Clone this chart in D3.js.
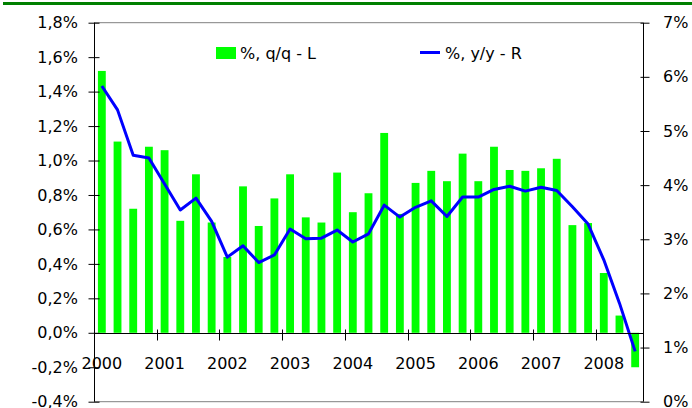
<!DOCTYPE html>
<html><head><meta charset="utf-8">
<script src="https://cdn.jsdelivr.net/npm/d3@7"></script>
<style>body{margin:0;background:#fff}svg{display:block}text{font-family:"DejaVu Sans",Verdana,sans-serif;fill:#000}</style>
</head><body><svg id="c" width="692" height="408"></svg>
<script>
const years = ["2000","2001","2002","2003","2004","2005","2006","2007","2008"];
const quarters = [];
years.forEach(y => ["Q1","Q2","Q3","Q4"].forEach(q => quarters.push(y + q)));
quarters.splice(35); // 2000Q1 .. 2008Q3
const qoq = [1.52,1.11,0.72,1.08, 1.06,0.65,0.92,0.64, 0.44,0.85,0.62,0.78, 0.92,0.67,0.64,0.93,
             0.70,0.81,1.16,0.69, 0.87,0.94,0.88,1.04, 0.88,1.08,0.945,0.94, 0.955,1.01,0.625,0.637,
             0.347,0.10,-0.20];
const yoy = [5.83,5.39,4.55,4.50, 4.02,3.54,3.76,3.33, 2.67,2.88,2.57,2.71, 3.19,3.01,3.02,3.17,
             2.95,3.10,3.63,3.41, 3.59,3.71,3.42,3.78, 3.78,3.92,3.98,3.89, 3.96,3.90,3.60,3.28,
             2.62,1.82,0.93];
const leftTicks = [-0.4,-0.2,0,0.2,0.4,0.6,0.8,1.0,1.2,1.4,1.6,1.8];
const rightTicks = [0,1,2,3,4,5,6,7];
const seriesNames = ["%, q/q - L", "%, y/y - R"];

const svg = d3.select("#c");
const L = 94, R = 643, T = 22.7, B = 401.7;
const x = d3.scaleBand().domain(quarters).range([L, R]).paddingInner(0.5).paddingOuter(0.25);
const yL = d3.scaleLinear().domain([-0.4, 1.8]).range([B, T]);
const yR = d3.scaleLinear().domain([0, 7]).range([B, T]);
const step = x.step(), bw = x.bandwidth();
const fmtL = d => d.toFixed(1).replace(".", ",") + "%";
const fmtR = d => d + "%";

// top green rule
svg.append("rect").attr("x", 3).attr("y", 2).attr("width", 689).attr("height", 3).attr("fill", "#008000");

// plot top/bottom borders
svg.append("line").attr("x1", L).attr("x2", R).attr("y1", T).attr("y2", T).attr("stroke", "#808080");
svg.append("line").attr("x1", L).attr("x2", R).attr("y1", B).attr("y2", B).attr("stroke", "#808080");

// bars
svg.append("g").selectAll("rect").data(quarters).join("rect")
  .attr("x", d => x(d))
  .attr("width", bw)
  .attr("y", (d, i) => yL(Math.max(0, qoq[i])))
  .attr("height", (d, i) => Math.abs(yL(qoq[i]) - yL(0)))
  .attr("fill", "#00ff00");

// line
const line = d3.line().x((d, i) => x(quarters[i]) + bw / 2).y(d => yR(d));
svg.append("path").datum(yoy).attr("d", line).attr("fill", "none")
  .attr("stroke", "#0000ff").attr("stroke-width", 3).attr("stroke-linejoin", "round");

// left axis
const gl = svg.append("g").attr("transform", `translate(${L},0)`)
  .call(d3.axisLeft(yL).tickValues(leftTicks).tickFormat(fmtL).tickSize(6).tickPadding(10));
gl.select(".domain").attr("stroke", "#000").attr("d", `M0.5,${T}V${B}`);
gl.selectAll(".tick line").attr("x1", 5).attr("x2", -6).attr("transform", "translate(0.5,0)");
gl.selectAll(".tick text").attr("font-size", 16).attr("font-family", "DejaVu Sans").attr("fill", "#000");

// right axis
const gr = svg.append("g").attr("transform", `translate(${R},0)`)
  .call(d3.axisRight(yR).tickValues(rightTicks).tickFormat(fmtR).tickSize(6).tickPadding(14));
gr.select(".domain").attr("stroke", "#000").attr("d", `M0.5,${T}V${B}`);
gr.selectAll(".tick line").attr("x1", -3).attr("x2", 6).attr("transform", "translate(0.5,0)");
gr.selectAll(".tick text").attr("font-size", 16).attr("font-family", "DejaVu Sans").attr("fill", "#000");

// x axis at zero
const y0 = Math.round(yL(0)) + 0.5;
svg.append("line").attr("x1", L).attr("x2", R).attr("y1", y0).attr("y2", y0).attr("stroke", "#000");
const firstQ = quarters.filter(q => q.endsWith("Q1"));
const gx = svg.append("g");
gx.selectAll("line").data(firstQ).join("line")
  .attr("x1", d => Math.round(x(d) - step * 0.25) + 0.5).attr("x2", d => Math.round(x(d) - step * 0.25) + 0.5)
  .attr("y1", y0 - 4).attr("y2", y0 + 7).attr("stroke", "#000");
gx.selectAll("text").data(firstQ).join("text")
  .attr("x", d => x(d) + bw / 2).attr("y", 369)
  .attr("text-anchor", "middle").attr("font-size", 16)
  .text(d => years[firstQ.indexOf(d)]);

// legend
svg.append("rect").attr("x", 216).attr("y", 47).attr("width", 20).attr("height", 12).attr("fill", "#00ff00");
svg.append("text").attr("x", 240).attr("y", 59).attr("font-size", 16).text(seriesNames[0]);
svg.append("line").attr("x1", 420).attr("x2", 440).attr("y1", 52.5).attr("y2", 52.5).attr("stroke", "#0000ff").attr("stroke-width", 3);
svg.append("text").attr("x", 445).attr("y", 59).attr("font-size", 16).text(seriesNames[1]);
</script></body></html>
